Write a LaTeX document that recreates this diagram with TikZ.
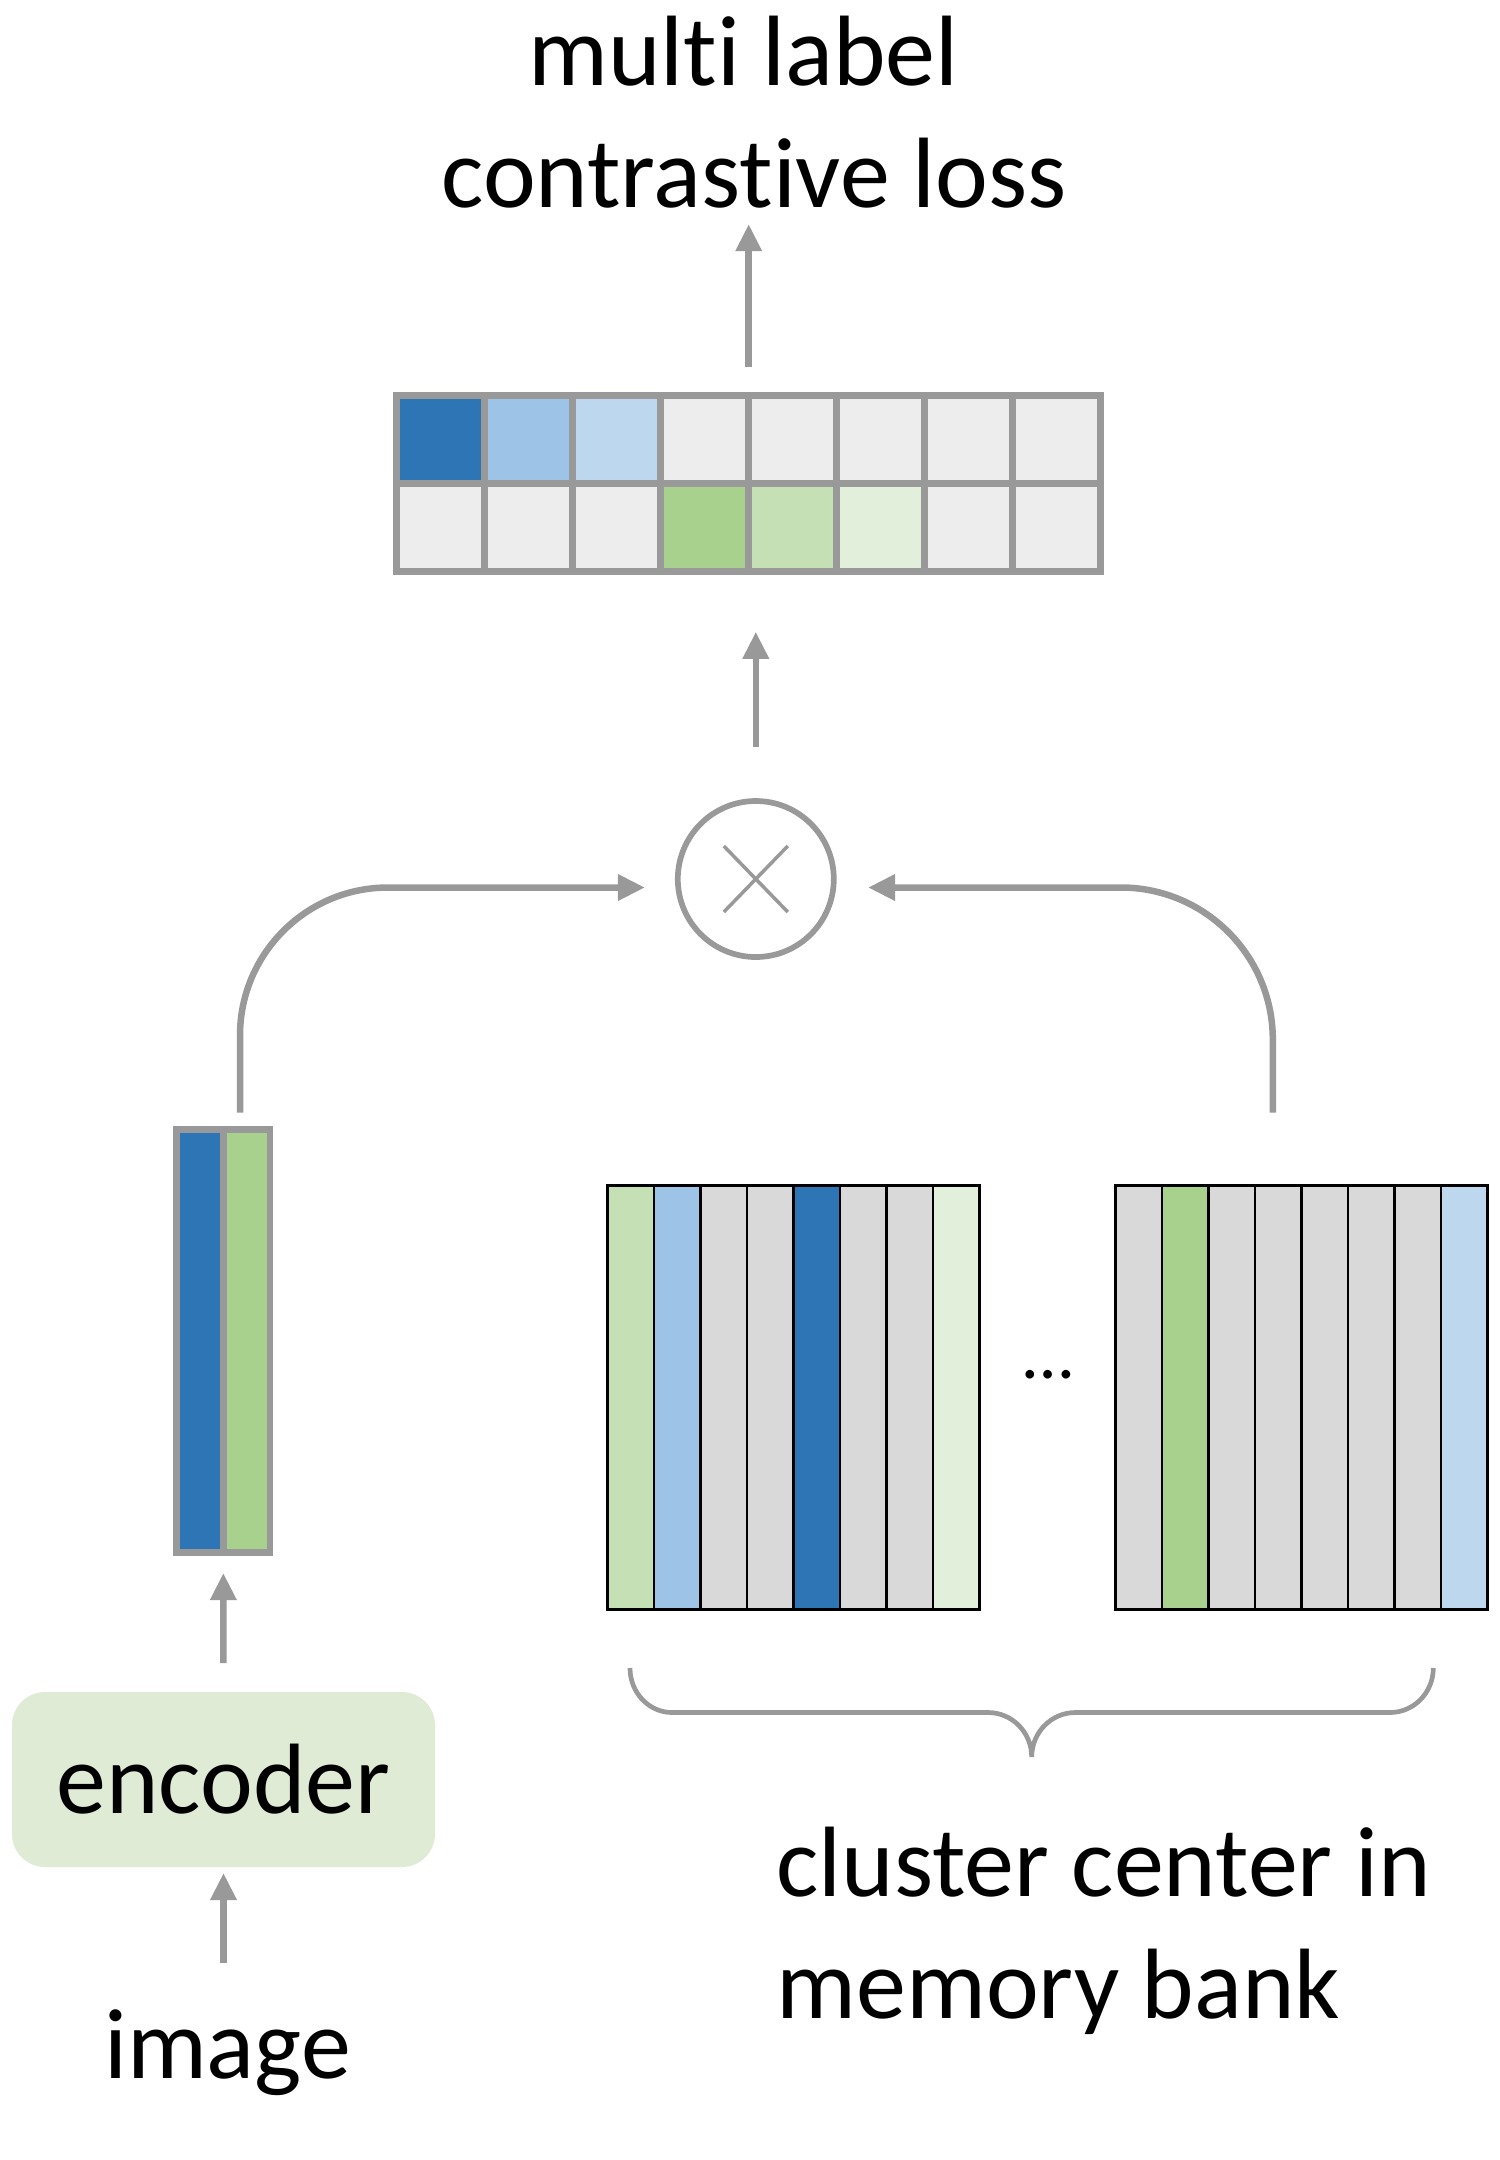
\documentclass[tikz,border=0pt]{standalone}
\usepackage{fontspec}
\setmainfont{Carlito}[Ligatures=NoCommon]
\usetikzlibrary{arrows.meta, calc}

\definecolor{darkBlue}{HTML}{2E75B6}
\definecolor{midBlue}{HTML}{9DC3E6}
\definecolor{lightBlue}{HTML}{BDD7EE}
\definecolor{leafGreen}{HTML}{A9D18E}
\definecolor{lightGreen}{HTML}{C5E0B4}
\definecolor{paleGreen}{HTML}{E2EFDA}
\definecolor{cellGray}{HTML}{EDEDED}
\definecolor{bankGray}{HTML}{D9D9D9}
\definecolor{lineGray}{HTML}{999999}
\definecolor{encFill}{HTML}{DFEBD5}

\tikzset{
  flow/.style={draw=lineGray, line width=3.25pt, -{Triangle[length=13.5pt, width=12.5pt]}},
  gridline/.style={draw=lineGray, line width=3.25pt},
  bankline/.style={draw=black, line width=1.35pt},
  txt/.style={font=\fontsize{50}{61}\selectfont, inner sep=0pt},
}

\begin{document}
\begin{tikzpicture}[x=0.5pt,y=0.5pt,yscale=-1,xscale=1]
\useasboundingbox (0,0) rectangle (1500,2160);

% Text Node
\node[txt, anchor=base, align=center] (loss) at (754,207) {multi label\kern0.21em\\contrastive loss};

%Shape: Score table
\fill[cellGray] (396.7,395.7) rectangle (1100.7,571.5);
\fill[darkBlue] (396.7,395.7) rectangle (484.7,483.6);
\fill[midBlue] (484.7,395.7) rectangle (572.7,483.6);
\fill[lightBlue] (572.7,395.7) rectangle (660.7,483.6);
\fill[leafGreen] (660.7,483.6) rectangle (748.7,571.5);
\fill[lightGreen] (748.7,483.6) rectangle (836.7,571.5);
\fill[paleGreen] (836.7,483.6) rectangle (924.7,571.5);
\draw[gridline] (396.7,395.7) rectangle (1100.7,571.5) (396.7,483.6) -- (1100.7,483.6)
  (484.7,395.7) -- (484.7,571.5) (572.7,395.7) -- (572.7,571.5) (660.7,395.7) -- (660.7,571.5)
  (748.7,395.7) -- (748.7,571.5) (836.7,395.7) -- (836.7,571.5) (924.7,395.7) -- (924.7,571.5)
  (1012.7,395.7) -- (1012.7,571.5);
\node[inner sep=0, minimum width=355.25pt, minimum height=91.15pt] (tab) at (748.7,483.6) {};

%Shape: Product circle
\node[circle, draw=lineGray, line width=2.85pt, minimum size=78pt, inner sep=0] (mul) at (755.8,879) {};
\draw[lineGray, line width=1.75pt] ($(mul)+(-32,-33)$) -- ($(mul)+(32,33)$) ($(mul)+(-32,33)$) -- ($(mul)+(32,-33)$);

%Shape: Feature vector
\fill[darkBlue] (176.7,1129.3) rectangle (223.4,1552.7);
\fill[leafGreen] (223.4,1129.3) rectangle (270,1552.7);
\draw[gridline] (176.7,1129.3) rectangle (270,1552.7) (223.4,1129.3) -- (223.4,1552.7);
\node[inner sep=0, minimum width=50pt, minimum height=215pt] (vec) at (223.3,1341) {};

%Shape: Memory bank, first block
\fill[bankGray] (607.5,1185.5) rectangle (979.5,1609.5);
\fill[lightGreen] (607.5,1185.5) rectangle (654,1609.5);
\fill[midBlue] (654,1185.5) rectangle (700.5,1609.5);
\fill[darkBlue] (793.5,1185.5) rectangle (840,1609.5);
\fill[paleGreen] (933,1185.5) rectangle (979.5,1609.5);
\draw[bankline] (607.5,1185.5) rectangle (979.5,1609.5)
  (654,1185.5) -- (654,1609.5) (700.5,1185.5) -- (700.5,1609.5) (747,1185.5) -- (747,1609.5)
  (793.5,1185.5) -- (793.5,1609.5) (840,1185.5) -- (840,1609.5) (886.5,1185.5) -- (886.5,1609.5)
  (933,1185.5) -- (933,1609.5);

%Shape: Memory bank, last block
\fill[bankGray] (1115.5,1185.5) rectangle (1487.5,1609.5);
\fill[leafGreen] (1162,1185.5) rectangle (1208.5,1609.5);
\fill[lightBlue] (1441,1185.5) rectangle (1487.5,1609.5);
\draw[bankline] (1115.5,1185.5) rectangle (1487.5,1609.5)
  (1162,1185.5) -- (1162,1609.5) (1208.5,1185.5) -- (1208.5,1609.5) (1255,1185.5) -- (1255,1609.5)
  (1301.5,1185.5) -- (1301.5,1609.5) (1348,1185.5) -- (1348,1609.5) (1394.5,1185.5) -- (1394.5,1609.5)
  (1441,1185.5) -- (1441,1609.5);
\coordinate (bankOut) at (1272.8,1112.7);

% Text Node
\node[font=\fontsize{36}{40}\selectfont, inner sep=0] (dots) at (1048,1375) {…};

%Curve Lines: brace under the memory bank
\draw[lineGray, line width=2.35pt] (630,1668) .. controls (630,1692.6) and (648.8,1712.5) .. (672,1712.5) -- (988,1712.5)
  .. controls (1012.1,1712.5) and (1031.7,1732.4) .. (1031.7,1757)
  .. controls (1031.7,1732.4) and (1051.3,1712.5) .. (1075.4,1712.5) -- (1390,1712.5)
  .. controls (1413.9,1712.5) and (1433.3,1692.6) .. (1433.3,1668);

% Text Node
\node[txt, anchor=base west, align=left] (bankLabel) at (776,2018) {cluster center in\\memory bank};

% Text Node
\node[txt, fill=encFill, rounded corners=16.5pt, minimum width=211.5pt, minimum height=87.5pt] (enc) at (223.5,1779.5) {encoder};
% Text Node
\node[txt, anchor=base] (img) at (227.5,2078) {image};
\coordinate (imgOut) at (223.5,1963);

%Straight Lines
\draw[flow, shorten >=2.8pt] (imgOut) -- (enc.south);
\draw[flow, shorten <=14.3pt, shorten >=8.3pt] (enc.north) -- (vec.south);
\draw[flow, shorten <=25.7pt, shorten >=28.3pt] (mul.north) -- (mul.north |- tab.south);
\draw[flow, shorten <=12.7pt, shorten >=8pt] (tab.north) -- (tab.north |- loss.south);
%Curve Lines
\draw[flow, rounded corners=74pt, shorten <=6.5pt, shorten >=15pt] ([xshift=8.35pt]vec.north) |- ([yshift=4.25pt]mul.west);
\draw[flow, rounded corners=76pt, shorten >=15.7pt] (bankOut) |- ([yshift=4.25pt]mul.east);

\end{tikzpicture}
\end{document}
